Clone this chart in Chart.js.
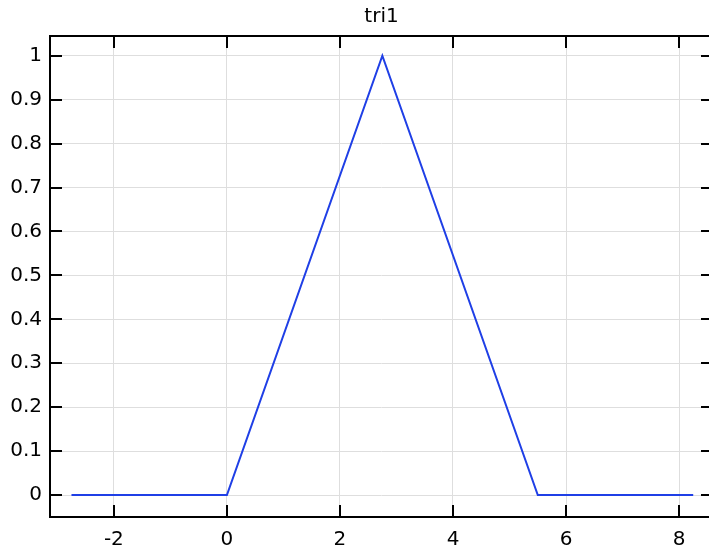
<!DOCTYPE html>
<html>
<head>
<meta charset="utf-8">
<script src="https://cdn.jsdelivr.net/npm/chart.js@4.4.1/dist/chart.umd.min.js"></script>
<style>
  html, body { margin: 0; padding: 0; background: #fff; }
  #wrap { width: 709px; height: 554px; overflow: hidden; position: relative; }
  canvas { display: block; }
</style>
</head>
<body>
<div id="wrap"><canvas id="tri" width="713" height="554"></canvas></div>
<script>
// Data
const xValues = [-2.75, 0, 2.75, 5.5, 8.25]
const yValues = [0, 0, 1, 0, 0]
const xTicks = [-2, 0, 2, 4, 6, 8]
const yTicks = [0, 0.1, 0.2, 0.3, 0.4, 0.5, 0.6, 0.7, 0.8, 0.9, 1]

const points = xValues.map((x, i) => ({ x: x, y: yValues[i] }))

// frame around the plot with ticks pointing inward (all four sides)
const framePlugin = {
    id: 'frame',
    afterDraw(chart) {
        const ctx = chart.ctx
        const a = chart.chartArea
        const xs = chart.scales.x
        const ys = chart.scales.y
        const len = 12
        ctx.save()
        ctx.strokeStyle = '#000'
        ctx.lineWidth = 2
        ctx.strokeRect(a.left, a.top, a.right - a.left, a.bottom - a.top)
        ctx.beginPath()
        xs.ticks.forEach((t) => {
            const px = Math.round(xs.getPixelForValue(t.value))
            ctx.moveTo(px, a.bottom)
            ctx.lineTo(px, a.bottom - len)
            ctx.moveTo(px, a.top)
            ctx.lineTo(px, a.top + len)
        })
        ys.ticks.forEach((t) => {
            const py = Math.round(ys.getPixelForValue(t.value))
            ctx.moveTo(a.left, py)
            ctx.lineTo(a.left + len, py)
            ctx.moveTo(a.right, py)
            ctx.lineTo(a.right - len, py)
        })
        ctx.stroke()
        ctx.restore()
    }
}

const font = { family: 'DejaVu Sans', size: 20, weight: 'normal' }

new Chart(document.getElementById('tri'), {
    type: 'scatter',
    data: {
        datasets: [
            {
                label: 'tri1',
                data: points,
                showLine: true,
                borderColor: '#1f3fe6',
                borderWidth: 2,
                pointRadius: 0,
                tension: 0
            }
        ]
    },
    options: {
        responsive: false,
        animation: false,
        layout: { padding: 0 },
        plugins: {
            legend: { display: false },
            tooltip: { enabled: false },
            title: {
                display: true,
                fullSize: false,
                text: 'tri1',
                color: '#000',
                font: font,
                padding: { top: 5, bottom: 7 }
            }
        },
        scales: {
            x: {
                type: 'linear',
                min: -3.13,
                max: 8.6,
                afterBuildTicks: (scale) => {
                    scale.ticks = xTicks.map((v) => ({ value: v }))
                },
                afterFit: (scale) => {
                    scale.height = 37
                },
                grid: { color: '#dedede', lineWidth: 1, drawTicks: false },
                border: { display: false },
                ticks: { color: '#000', font: font, padding: 11 }
            },
            y: {
                type: 'linear',
                min: -0.05,
                max: 1.045,
                afterBuildTicks: (scale) => {
                    scale.ticks = yTicks.map((v) => ({ value: v }))
                },
                afterFit: (scale) => {
                    scale.width = 50
                },
                grid: { color: '#dedede', lineWidth: 1, drawTicks: false },
                border: { display: false },
                ticks: {
                    color: '#000',
                    font: font,
                    padding: 8,
                    callback: (v) => String(Math.round(v * 10) / 10)
                }
            }
        }
    },
    plugins: [framePlugin]
})
</script>
</body>
</html>
